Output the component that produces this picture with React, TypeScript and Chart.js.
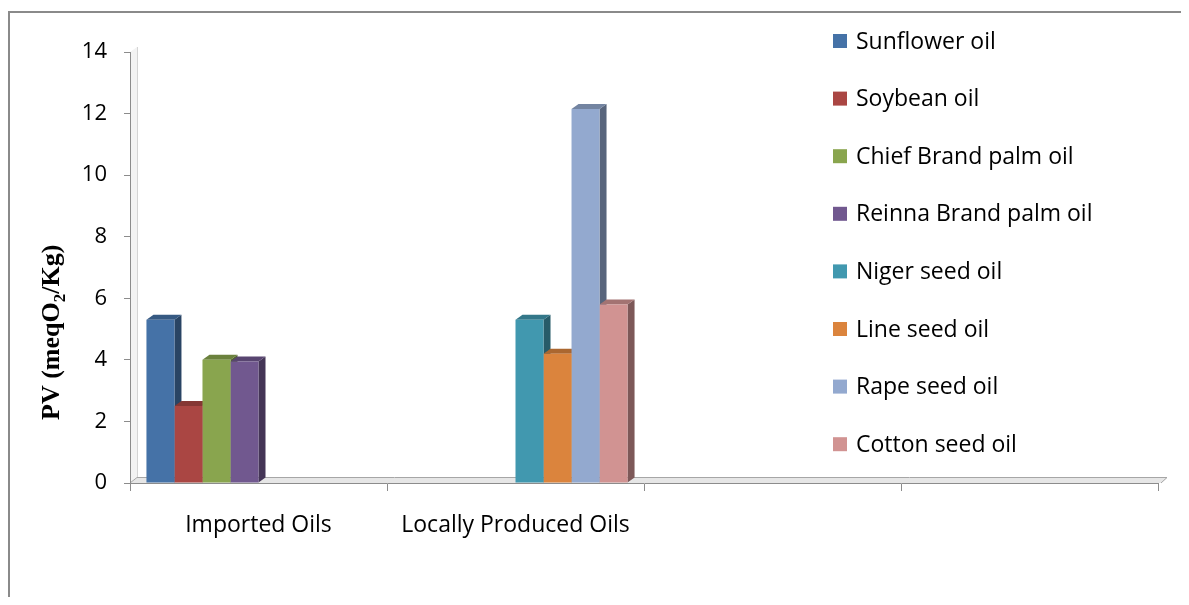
import React, { useEffect, useRef } from "react";
import { Chart, registerables } from "chart.js";

Chart.register(...registerables);

// ---- data ----
const categories = ["Imported Oils", "Locally Produced Oils", "", ""];
const seriesNames = [
  "Sunflower oil",
  "Soybean oil",
  "Chief Brand palm oil",
  "Reinna Brand palm oil",
  "Niger seed oil",
  "Line seed oil",
  "Rape seed oil",
  "Cotton seed oil",
];
const sunflower = [5.3, null, null, null];
const soybean = [2.5, null, null, null];
const chiefPalm = [4.0, null, null, null];
const reinnaPalm = [3.95, null, null, null];
const nigerSeed = [null, 5.3, null, null];
const lineSeed = [null, 4.2, null, null];
const rapeSeed = [null, 12.15, null, null];
const cottonSeed = [null, 5.8, null, null];
const seriesValues = [sunflower, soybean, chiefPalm, reinnaPalm, nigerSeed, lineSeed, rapeSeed, cottonSeed];
const seriesColors = ["#4572A7", "#AA4643", "#89A54E", "#71588F", "#4198AF", "#DB843D", "#93A9CF", "#D19392"];
const yMin = 0;
const yMax = 14;
const yStep = 2;
const yTitleMain = "PV (meqO";
const yTitleSub = "2";
const yTitleEnd = "/Kg)";

const FONT = '"Open Sans", "DejaVu Sans", sans-serif';

function shade(hex: string, f: number): string {
  const n = parseInt(hex.slice(1), 16);
  const r = Math.round(((n >> 16) & 255) * f);
  const g = Math.round(((n >> 8) & 255) * f);
  const b = Math.round((n & 255) * f);
  return `rgb(${Math.min(255, r)},${Math.min(255, g)},${Math.min(255, b)})`;
}

const DX = 7;
const DY = 5;

const framePlugin = {
  id: "frame3d",
  beforeDraw(chart: any) {
    const ctx = chart.ctx;
    const { left, right, top, bottom } = chart.chartArea;
    ctx.save();
    // outer frame
    ctx.strokeStyle = "#8a8a8a";
    ctx.lineWidth = 2;
    ctx.beginPath();
    ctx.moveTo(1, chart.height);
    ctx.lineTo(1, 4);
    ctx.lineTo(chart.width, 4);
    ctx.stroke();
    // side wall
    ctx.fillStyle = "#f3f3f3";
    ctx.beginPath();
    ctx.moveTo(left, top);
    ctx.lineTo(left + DX, top - DY);
    ctx.lineTo(left + DX, bottom - DY);
    ctx.lineTo(left, bottom);
    ctx.closePath();
    ctx.fill();
    ctx.strokeStyle = "#d4d4d4";
    ctx.lineWidth = 1;
    ctx.beginPath();
    ctx.moveTo(left + DX + 0.5, top - DY);
    ctx.lineTo(left + DX + 0.5, bottom - DY);
    ctx.stroke();
    // floor
    ctx.fillStyle = "#e6e6e6";
    ctx.beginPath();
    ctx.moveTo(left, bottom);
    ctx.lineTo(left + DX, bottom - DY);
    ctx.lineTo(right + DX + 2, bottom - DY);
    ctx.lineTo(right + 3, bottom);
    ctx.closePath();
    ctx.fill();
    ctx.strokeStyle = "#a6a6a6";
    ctx.beginPath();
    ctx.moveTo(left, bottom);
    ctx.lineTo(left + DX, bottom - DY - 0.5);
    ctx.lineTo(right + DX + 2, bottom - DY - 0.5);
    ctx.lineTo(right + 3, bottom);
    ctx.stroke();
    ctx.restore();
  },
  beforeDatasetsDraw(chart: any) {
    const ctx = chart.ctx;
    ctx.save();
    chart.data.datasets.forEach((ds: any, di: number) => {
      const meta = chart.getDatasetMeta(di);
      const col = seriesColors[di];
      meta.data.forEach((bar: any, i: number) => {
        if (ds.data[i] == null) return;
        const { x, y, base, width } = bar.getProps(["x", "y", "base", "width"], true);
        const l = x - width / 2;
        const r = x + width / 2;
        // side
        ctx.fillStyle = shade(col, 0.6);
        ctx.beginPath();
        ctx.moveTo(r, y);
        ctx.lineTo(r + DX, y - DY);
        ctx.lineTo(r + DX, base - DY);
        ctx.lineTo(r, base);
        ctx.closePath();
        ctx.fill();
        // top
        ctx.fillStyle = shade(col, 0.78);
        ctx.beginPath();
        ctx.moveTo(l, y);
        ctx.lineTo(l + DX, y - DY);
        ctx.lineTo(r + DX, y - DY);
        ctx.lineTo(r, y);
        ctx.closePath();
        ctx.fill();
      });
    });
    ctx.restore();
  },
  afterDraw(chart: any) {
    const ctx = chart.ctx;
    ctx.save();
    // legend
    ctx.font = `23px ${FONT}`;
    ctx.textBaseline = "middle";
    ctx.textAlign = "left";
    chart.data.datasets.forEach((ds: any, i: number) => {
      const cy = 33 + i * 57.6;
      ctx.fillStyle = seriesColors[i];
      ctx.fillRect(825, cy - 7, 14, 14);
      ctx.fillStyle = "#000";
      ctx.fillText(ds.label, 848, cy + 1);
    });
    // y axis title
    ctx.translate(51, 412);
    ctx.rotate(-Math.PI / 2);
    ctx.fillStyle = "#000";
    ctx.textBaseline = "alphabetic";
    ctx.font = 'bold 26px "Liberation Serif", "DejaVu Serif", serif';
    ctx.fillText(yTitleMain, 0, 0);
    let w = ctx.measureText(yTitleMain).width;
    ctx.font = 'bold 17px "Liberation Serif", "DejaVu Serif", serif';
    ctx.fillText(yTitleSub, w, 6);
    w += ctx.measureText(yTitleSub).width;
    ctx.font = 'bold 26px "Liberation Serif", "DejaVu Serif", serif';
    ctx.fillText(yTitleEnd, w, 0);
    ctx.restore();
  },
};

export default function App() {
  const ref = useRef<HTMLCanvasElement | null>(null);
  useEffect(() => {
    if (!ref.current) return;
    const chart = new Chart(ref.current, {
      type: "bar",
      data: {
        labels: categories,
        datasets: seriesValues.map((vals, i) => ({
          label: seriesNames[i],
          data: vals,
          backgroundColor: seriesColors[i],
          borderWidth: 0,
          categoryPercentage: 0.872,
          barPercentage: 1,
        })),
      },
      options: {
        responsive: false,
        animation: false,
        layout: { padding: { left: 0, right: 31, top: 44, bottom: 0 } },
        plugins: {
          legend: { display: false },
          tooltip: { enabled: false },
        },
        scales: {
          x: {
            grid: { display: true, drawOnChartArea: false, drawTicks: true, tickLength: 8, color: "#8c8c8c", offset: true },
            border: { display: true, color: "#8c8c8c", width: 1 },
            ticks: { color: "#000", font: { family: FONT, size: 23 }, padding: 21, maxRotation: 0, autoSkip: false },
            afterFit: (s: any) => {
              s.height = 122;
            },
          },
          y: {
            min: yMin,
            max: yMax,
            grid: { display: true, drawOnChartArea: false, drawTicks: true, tickLength: 6, color: "#8c8c8c" },
            border: { display: true, color: "#8c8c8c", width: 1 },
            ticks: { stepSize: yStep, color: "#000", font: { family: FONT, size: 22 }, padding: 17 },
            afterFit: (s: any) => {
              s.width = 122;
            },
          },
        },
      },
      plugins: [framePlugin],
    });
    return () => chart.destroy();
  }, []);
  return (
    <div style={{ width: 1181, height: 589 }}>
      <canvas ref={ref} width={1181} height={597} style={{ display: "block" }} />
    </div>
  );
}
